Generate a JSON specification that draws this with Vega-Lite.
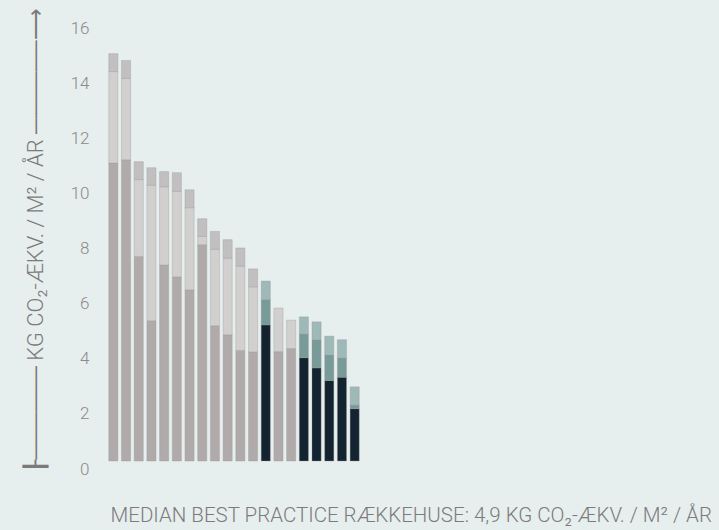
{
  "$schema": "https://vega.github.io/schema/vega-lite/v6.json",
  "width": 260,
  "height": 441,
  "autosize": {"type": "none"},
  "padding": {"left": 104, "top": 20, "right": 355, "bottom": 69},
  "background": "#e7eeee",
  "config": {"view": {"stroke": null}, "axis": {"grid": false}},
  "data": {
    "values": [
      {"bar": 1, "seg": 1, "cat": "g1", "value": 10.81},
      {"bar": 1, "seg": 2, "cat": "g2", "value": 3.32},
      {"bar": 1, "seg": 3, "cat": "g3", "value": 0.65},
      {"bar": 2, "seg": 1, "cat": "g1", "value": 10.93},
      {"bar": 2, "seg": 2, "cat": "g2", "value": 2.95},
      {"bar": 2, "seg": 3, "cat": "g3", "value": 0.65},
      {"bar": 3, "seg": 1, "cat": "g1", "value": 7.42},
      {"bar": 3, "seg": 2, "cat": "g2", "value": 2.79},
      {"bar": 3, "seg": 3, "cat": "g3", "value": 0.65},
      {"bar": 4, "seg": 1, "cat": "g1", "value": 5.09},
      {"bar": 4, "seg": 2, "cat": "g2", "value": 4.91},
      {"bar": 4, "seg": 3, "cat": "g3", "value": 0.64},
      {"bar": 5, "seg": 1, "cat": "g1", "value": 7.11},
      {"bar": 5, "seg": 2, "cat": "g2", "value": 2.84},
      {"bar": 5, "seg": 3, "cat": "g3", "value": 0.55},
      {"bar": 6, "seg": 1, "cat": "g1", "value": 6.68},
      {"bar": 6, "seg": 2, "cat": "g2", "value": 3.10},
      {"bar": 6, "seg": 3, "cat": "g3", "value": 0.68},
      {"bar": 7, "seg": 1, "cat": "g1", "value": 6.21},
      {"bar": 7, "seg": 2, "cat": "g2", "value": 2.98},
      {"bar": 7, "seg": 3, "cat": "g3", "value": 0.65},
      {"bar": 8, "seg": 1, "cat": "g1", "value": 7.85},
      {"bar": 8, "seg": 2, "cat": "g2", "value": 0.30},
      {"bar": 8, "seg": 3, "cat": "g3", "value": 0.64},
      {"bar": 9, "seg": 1, "cat": "g1", "value": 4.91},
      {"bar": 9, "seg": 2, "cat": "g2", "value": 2.77},
      {"bar": 9, "seg": 3, "cat": "g3", "value": 0.65},
      {"bar": 10, "seg": 1, "cat": "g1", "value": 4.58},
      {"bar": 10, "seg": 2, "cat": "g2", "value": 2.78},
      {"bar": 10, "seg": 3, "cat": "g3", "value": 0.67},
      {"bar": 11, "seg": 1, "cat": "g1", "value": 4.01},
      {"bar": 11, "seg": 2, "cat": "g2", "value": 3.06},
      {"bar": 11, "seg": 3, "cat": "g3", "value": 0.66},
      {"bar": 12, "seg": 1, "cat": "g1", "value": 3.96},
      {"bar": 12, "seg": 2, "cat": "g2", "value": 2.36},
      {"bar": 12, "seg": 3, "cat": "g3", "value": 0.65},
      {"bar": 13, "seg": 1, "cat": "d1", "value": 4.94},
      {"bar": 13, "seg": 2, "cat": "d2", "value": 0.92},
      {"bar": 13, "seg": 3, "cat": "d3", "value": 0.67},
      {"bar": 14, "seg": 1, "cat": "g1", "value": 3.97},
      {"bar": 14, "seg": 2, "cat": "g2", "value": 1.58},
      {"bar": 15, "seg": 1, "cat": "g1", "value": 4.08},
      {"bar": 15, "seg": 2, "cat": "g2", "value": 1.03},
      {"bar": 16, "seg": 1, "cat": "d1", "value": 3.75},
      {"bar": 16, "seg": 2, "cat": "d2", "value": 0.86},
      {"bar": 16, "seg": 3, "cat": "d3", "value": 0.62},
      {"bar": 17, "seg": 1, "cat": "d1", "value": 3.38},
      {"bar": 17, "seg": 2, "cat": "d2", "value": 1.02},
      {"bar": 17, "seg": 3, "cat": "d3", "value": 0.65},
      {"bar": 18, "seg": 1, "cat": "d1", "value": 2.92},
      {"bar": 18, "seg": 2, "cat": "d2", "value": 0.93},
      {"bar": 18, "seg": 3, "cat": "d3", "value": 0.68},
      {"bar": 19, "seg": 1, "cat": "d1", "value": 3.04},
      {"bar": 19, "seg": 2, "cat": "d2", "value": 0.70},
      {"bar": 19, "seg": 3, "cat": "d3", "value": 0.66},
      {"bar": 20, "seg": 1, "cat": "d1", "value": 1.90},
      {"bar": 20, "seg": 2, "cat": "d2", "value": 0.13},
      {"bar": 20, "seg": 3, "cat": "d3", "value": 0.66}
    ]
  },
  "mark": {"type": "bar", "stroke": "#9a9a9a", "strokeWidth": 0.6, "strokeOpacity": 0.6},
  "encoding": {
    "x": {
      "field": "bar",
      "type": "ordinal",
      "scale": {"paddingInner": 0.28, "paddingOuter": 0.375},
      "axis": {
        "labels": false,
        "ticks": false,
        "domain": false,
        "title": "MEDIAN BEST PRACTICE RÆKKEHUSE: 4,9 KG CO₂-ÆKV. / M² / ÅR",
        "titleAnchor": "start",
        "titleAlign": "left",
        "titleX": 6,
        "titleY": 54,
        "titleBaseline": "middle",
        "titleFont": "Roboto",
        "titleFontSize": 20.5,
        "titleFontWeight": 300,
        "titleColor": "#7b7b7b"
      }
    },
    "y": {
      "field": "value",
      "type": "quantitative",
      "stack": "zero",
      "scale": {"domain": [0, 16]},
      "axis": {
        "values": [0, 2, 4, 6, 8, 10, 12, 14, 16],
        "domain": false,
        "ticks": false,
        "labelPadding": 15,
        "labelBaseline": "top",
        "labelFont": "Roboto",
        "labelFontSize": 17,
        "labelFontWeight": 300,
        "labelColor": "#8a8a8a",
        "title": "┠────── KG CO₂-ÆKV. / M² / ÅR ──────⟶",
        "titleX": -69,
        "titleY": 220,
        "titleAngle": -90,
        "titleAlign": "center",
        "titleBaseline": "middle",
        "titleFont": "Roboto, DejaVu Sans",
        "titleFontSize": 22,
        "titleFontWeight": 300,
        "titleColor": "#7b7b7b"
      }
    },
    "color": {
      "field": "cat",
      "type": "nominal",
      "scale": {
        "domain": ["g1", "g2", "g3", "d1", "d2", "d3"],
        "range": ["#b0abaa", "#d2cfcf", "#c1bfbf", "#13232f", "#789b99", "#9fb8b8"]
      },
      "legend": null
    },
    "order": {"field": "seg", "type": "quantitative"}
  }
}
